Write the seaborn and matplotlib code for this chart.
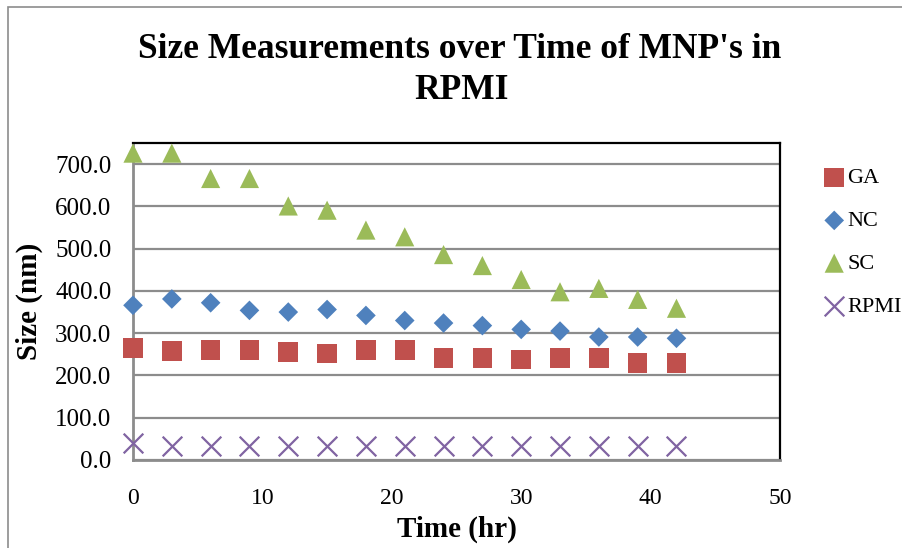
import matplotlib
matplotlib.use("Agg")
import matplotlib.pyplot as plt
from matplotlib.patches import Rectangle
from matplotlib.ticker import FormatStrFormatter, MultipleLocator
import seaborn as sns
import pandas as pd

# Sampling times (hours)
time_hr = [0, 3, 6, 9, 12, 15, 18, 21, 24, 27, 30, 33, 36, 39, 42]

# Measured particle sizes (nm)
ga = [265, 258, 261, 261, 256, 252, 261, 261, 241, 242, 238, 242, 242, 229, 229]
nc = [366, 381, 372, 354, 350, 356, 342, 330, 324, 318, 309, 305, 291, 291, 288]
sc = [726, 726, 666, 666, 601, 591, 544, 528, 486, 460, 427, 398, 406, 380, 359]
rpmi = [41, 33, 33, 33, 33, 33, 33, 33, 33, 33, 33, 33, 33, 33, 33]

series_names = ["GA", "NC", "SC", "RPMI"]
series_values = [ga, nc, sc, rpmi]

df = pd.concat(
    [pd.DataFrame({"Time": time_hr, "Size": v, "Series": n})
     for n, v in zip(series_names, series_values)],
    ignore_index=True,
)

sns.set_theme(style="white")
plt.rcParams["font.family"] = ["Liberation Serif", "DejaVu Serif"]
plt.rcParams["text.color"] = "black"
plt.rcParams["axes.labelcolor"] = "black"

W, H = 902, 548
fig = plt.figure(figsize=(W / 100, H / 100), dpi=100)
ax = fig.add_axes([133 / W, 1 - 460 / H, (780 - 133) / W, (460 - 143) / H])

palette = {"GA": "#C0504D", "NC": "#4F81BD", "SC": "#9BBB59", "RPMI": "#8064A2"}
markers = {"GA": "s", "NC": "D", "SC": "^", "RPMI": "x"}
sizes = {"GA": 200, "NC": 100, "SC": 190, "RPMI": 200}

for name in series_names:
    sub = df[df["Series"] == name]
    kw = dict(edgecolor="none") if name != "RPMI" else dict(linewidth=1.6)
    sns.scatterplot(data=sub, x="Time", y="Size", ax=ax, color=palette[name],
                    marker=markers[name], s=sizes[name], label=name,
                    zorder=3, clip_on=False, **kw)

ax.set_xlim(0, 50)
ax.set_ylim(0, 750)
ax.xaxis.set_major_locator(MultipleLocator(10))
ax.set_yticks([0, 100, 200, 300, 400, 500, 600, 700])
ax.yaxis.set_major_formatter(FormatStrFormatter("%.1f"))
ax.tick_params(axis="both", length=0, colors="black")
ax.tick_params(axis="x", pad=20, labelsize=17)
ax.tick_params(axis="y", pad=15.5, labelsize=18)

ax.yaxis.grid(True, color="#8C8C8C", linewidth=1.6)
ax.set_axisbelow(True)
for side in ("top", "right"):
    ax.spines[side].set_color("black")
    ax.spines[side].set_linewidth(1.6)
for side in ("left", "bottom"):
    ax.spines[side].set_color("#8C8C8C")
    ax.spines[side].set_linewidth(2.0)

ax.set_xlabel("Time (hr)", fontsize=21, fontweight="bold", color="black")
ax.set_ylabel("Size (nm)", fontsize=21, fontweight="bold", color="black")
ax.xaxis.set_label_coords(0.5, (460 - 516) / (460 - 143))
ax.yaxis.set_label_coords((43 - 133) / (780 - 133), 0.5)

fig.text(460 / W, 1 - 58 / H, "Size Measurements over Time of MNP's in",
         ha="center", va="baseline", fontsize=25.5, fontweight="bold",
         color="black")
fig.text(462 / W, 1 - 99 / H, "RPMI",
         ha="center", va="baseline", fontsize=25.5, fontweight="bold",
         color="black")

leg = ax.legend(loc="upper left", bbox_to_anchor=(812 / W, 1 - 159 / H),
                bbox_transform=fig.transFigure, frameon=False, fontsize=16,
                handletextpad=0.0, labelspacing=1.0, borderaxespad=0,
                handlelength=1.2)
for t in leg.get_texts():
    t.set_color("black")

# outer chart frame
fig.patches.append(Rectangle((8 / W, -0.05), 1.2, 1.05 - 7 / H,
                             transform=fig.transFigure, fill=False,
                             edgecolor="#8C8C8C", linewidth=1.2))

fig.savefig("out.png", dpi=100)
